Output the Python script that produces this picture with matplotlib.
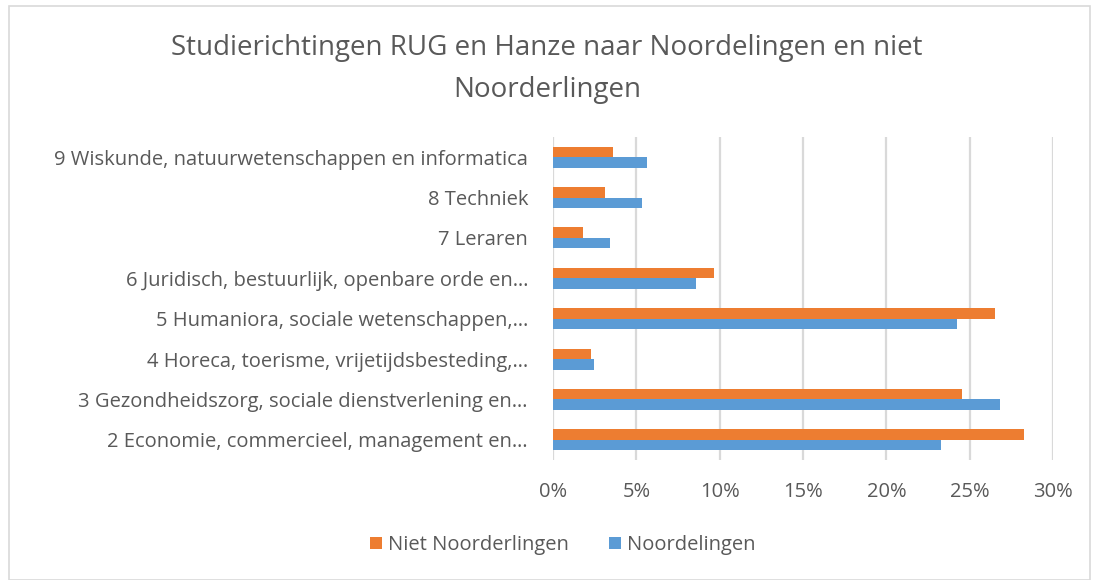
import matplotlib.pyplot as plt
import numpy as np
from matplotlib.patches import Rectangle

categories = [
    '2 Economie, commercieel, management en…',
    '3 Gezondheidszorg, sociale dienstverlening en…',
    '4 Horeca, toerisme, vrijetijdsbesteding,…',
    '5 Humaniora, sociale wetenschappen,…',
    '6 Juridisch, bestuurlijk, openbare orde en…',
    '7 Leraren',
    '8 Techniek',
    '9 Wiskunde, natuurwetenschappen en informatica',
]
niet_noord = [28.25, 24.55, 2.3, 26.5, 9.65, 1.8, 3.1, 3.6]
noord = [23.3, 26.8, 2.45, 24.25, 8.55, 3.4, 5.35, 5.65]
xticks = [0, 5, 10, 15, 20, 25, 30]

plt.rcParams['font.family'] = ['Open Sans', 'DejaVu Sans']
text_col = '#595959'
orange = '#ed7d31'
blue = '#5b9bd5'

fig = plt.figure(figsize=(10.94, 5.80), dpi=100)
W, H = 1094, 580
# outer chart frame
fig.patches.append(Rectangle((9 / W, 0), (1090 - 9) / W, (580 - 6) / H,
                             transform=fig.transFigure, fill=False,
                             edgecolor='#d9d9d9', linewidth=1.2))

ax = fig.add_axes([553 / W, (H - 460) / H, (1053 - 553) / W, (460 - 137) / H])

y = np.arange(len(categories))
h = 0.26
ax.barh(y + h / 2, niet_noord, height=h, color=orange, label='Niet Noorderlingen', zorder=3)
ax.barh(y - h / 2, noord, height=h, color=blue, label='Noordelingen', zorder=3)

ax.set_xlim(0, 30)
ax.set_ylim(-0.5, len(categories) - 0.5)
ax.set_xticks(xticks)
ax.set_xticklabels([f'{t}%' for t in xticks])
ax.set_yticks(y)
ax.set_yticklabels(categories)
ax.tick_params(axis='both', length=0, labelsize=14.5, colors=text_col)
ax.tick_params(axis='x', pad=16)
ax.tick_params(axis='y', pad=18)
ax.grid(axis='x', color='#d9d9d9', linewidth=1.6, zorder=0)
for s in ax.spines.values():
    s.set_visible(False)

fig.text(0.5, 1 - 69 / H, 'Studierichtingen RUG en Hanze naar Noordelingen en niet\nNoorderlingen',
         ha='center', va='center', fontsize=20, color=text_col, linespacing=1.65)

handles, labels = ax.get_legend_handles_labels()
fig.legend(handles, labels, loc='center', bbox_to_anchor=(563 / W, 1 - 545 / H), ncol=2,
           frameon=False, fontsize=14.5, labelcolor=text_col, handlelength=0.6,
           handleheight=0.6, handletextpad=0.3, columnspacing=2.0)

fig.savefig('out.png', dpi=100)
